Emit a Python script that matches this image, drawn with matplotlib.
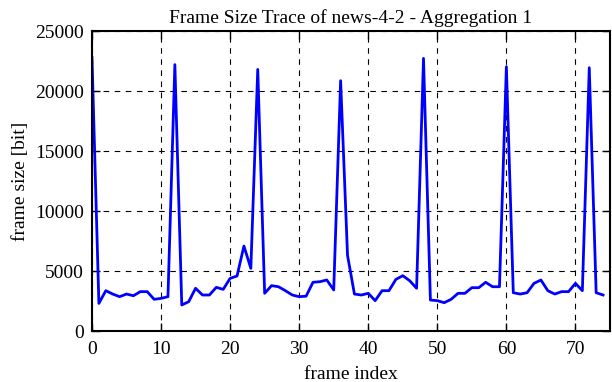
import numpy as np
import matplotlib
matplotlib.use("Agg")
import matplotlib.pyplot as plt

# --- Datos: tamaño de trama por índice ---
frame_index = list(range(75))
frame_size = [
    22800, 2300, 3360, 3080, 2860, 3080, 2940, 3280, 3280, 2640,
    2720, 2860, 22200, 2170, 2440, 3560, 3000, 3000, 3640, 3470,
    4390, 4580, 7080, 5220, 21800, 3140, 3780, 3690, 3360, 3000,
    2860, 2900, 4060, 4110, 4250, 3420, 20860, 6300, 3080, 3000,
    3140, 2530, 3360, 3360, 4300, 4610, 4190, 3560, 22720, 2580,
    2530, 2360, 2640, 3140, 3140, 3610, 3610, 4060, 3690, 3690,
    22030, 3190, 3080, 3190, 3970, 4250, 3360, 3080, 3280, 3280,
    3970, 3360, 21940, 3190, 3000,
]
x_ticks = [0, 10, 20, 30, 40, 50, 60, 70]
y_ticks = [0, 5000, 10000, 15000, 20000, 25000]

plt.rcParams["font.family"] = ["Liberation Serif", "DejaVu Serif"]
plt.rcParams["font.size"] = 14

fig = plt.figure(figsize=(6.12, 3.82), dpi=100)
ax = fig.add_axes([0.1503, 0.1335, 0.8464, 0.7853])

ax.plot(frame_index, frame_size, color="#0000ff", linewidth=2.0)

ax.set_xlim(0, 75)
ax.set_ylim(0, 25000)
ax.set_xticks(x_ticks)
ax.set_yticks(y_ticks)
ax.grid(True, color="black", linestyle=(0, (5, 5)), linewidth=0.8)
ax.tick_params(direction="in", top=True, right=True, length=6, width=1,
               labelsize=14)
ax.tick_params(axis="x", pad=7)
ax.tick_params(axis="y", pad=6)
for s in ax.spines.values():
    s.set_linewidth(1.5)

ax.set_title("Frame Size Trace of news-4-2 - Aggregation 1", fontsize=14, pad=6)
ax.set_xlabel("frame index", fontsize=14, labelpad=6)
ax.set_ylabel("frame size [bit]", fontsize=14, labelpad=4)

fig.savefig("out.png", dpi=100)
